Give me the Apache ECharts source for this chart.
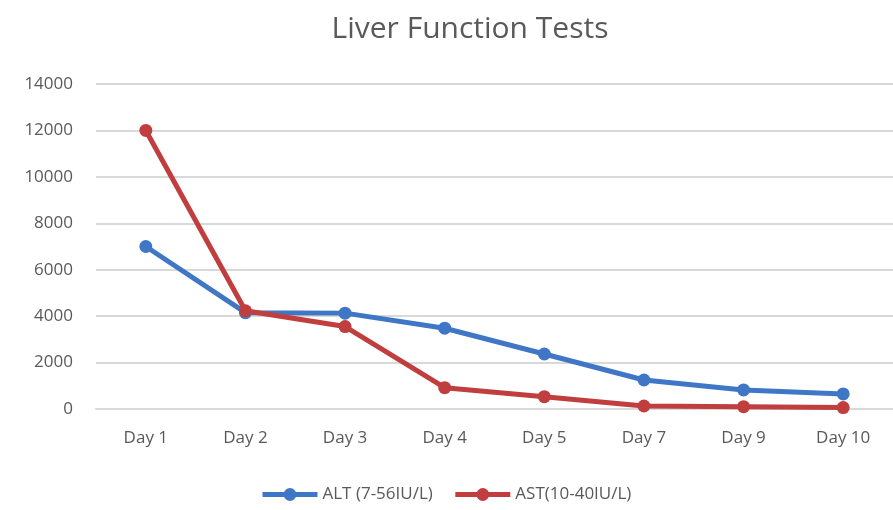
<!DOCTYPE html>
<html>
<head>
<meta charset="utf-8">
<script src="https://cdn.jsdelivr.net/npm/echarts@6/dist/echarts.min.js"></script>
<style>
  html, body { margin: 0; padding: 0; background: #fff; }
  #main { width: 893px; height: 510px; }
</style>
</head>
<body>
<div id="main"></div>
<script>
const days = ["Day 1", "Day 2", "Day 3", "Day 4", "Day 5", "Day 7", "Day 9", "Day 10"];
const alt = [7000, 4150, 4130, 3480, 2370, 1250, 820, 650];
const ast = [12000, 4230, 3550, 920, 530, 130, 100, 60];

const chart = echarts.init(document.getElementById("main"));
const font = "Open Sans";

option = {
    backgroundColor: "#fff",
    animation: false,
    title: {
        text: "Liver Function Tests",
        left: 465,
        textAlign: "center",
        top: 9,
        textStyle: {
            fontFamily: font,
            fontSize: 30,
            fontWeight: "normal",
            color: "#595959"
        }
    },
    legend: {
        bottom: 2,
        left: 255,
        itemWidth: 55,
        itemHeight: 16,
        itemGap: 20,
        lineStyle: { width: 5 },
        textStyle: {
            fontFamily: font,
            fontSize: 17,
            color: "#595959"
        },
        data: ["ALT (7-56IU/L)", "AST(10-40IU/L)"]
    },
    grid: {
        left: 96,
        right: -10,
        top: 84,
        bottom: 101
    },
    xAxis: {
        type: "category",
        data: days,
        axisLine: { lineStyle: { color: "#d9d9d9", width: 2 } },
        axisTick: { lineStyle: { color: "#d9d9d9", width: 2 }, length: 6 },
        axisLabel: {
            fontFamily: font,
            fontSize: 17,
            color: "#595959",
            margin: 21
        }
    },
    yAxis: {
        type: "value",
        min: 0,
        max: 14000,
        interval: 2000,
        axisLine: { show: false },
        axisTick: { show: false },
        splitLine: { lineStyle: { color: "#d9d9d9", width: 2 } },
        axisLabel: {
            fontFamily: font,
            fontSize: 17,
            color: "#595959",
            margin: 23,
            formatter: (v) => String(v)
        }
    },
    series: [
        {
            name: "ALT (7-56IU/L)",
            type: "line",
            data: alt,
            symbol: "circle",
            symbolSize: 13,
            lineStyle: { width: 5, color: "#3f77c6" },
            itemStyle: { color: "#3f77c6" }
        },
        {
            name: "AST(10-40IU/L)",
            type: "line",
            data: ast,
            symbol: "circle",
            symbolSize: 13,
            lineStyle: { width: 5, color: "#c13e3e" },
            itemStyle: { color: "#c13e3e" }
        }
    ]
};

chart.setOption(option);
</script>
</body>
</html>
